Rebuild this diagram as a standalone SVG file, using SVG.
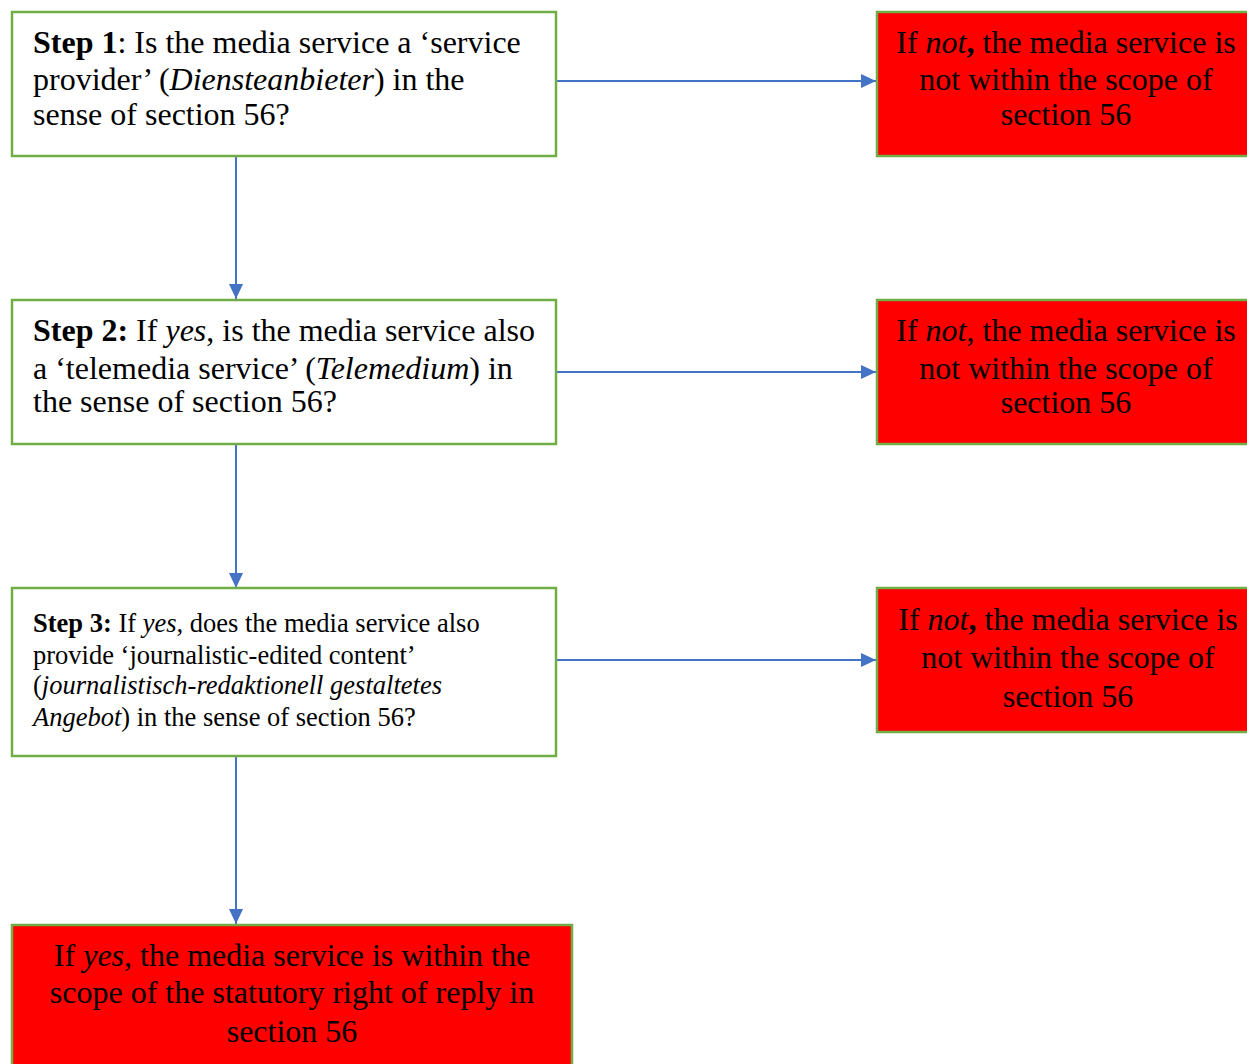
<svg xmlns="http://www.w3.org/2000/svg" width="1247" height="1064" viewBox="0 0 1247 1064">
<defs>
<style>
.box{fill:#ffffff;stroke:#70AD47;stroke-width:2.5}
.red{fill:#FF0000;stroke:#70AD47;stroke-width:2.5}
.t{font-family:"Liberation Serif","Times New Roman",serif;font-size:32px;fill:#000}
.s{font-size:26.5px}
.c{text-anchor:middle}
.b{font-weight:bold}
.i{font-style:italic}
.con{stroke:#4472C4;stroke-width:2;fill:none;marker-end:url(#ah)}
</style>
<marker id="ah" markerUnits="userSpaceOnUse" markerWidth="16" markerHeight="16" refX="15" refY="8" orient="auto">
<path d="M0,1 L15,8 L0,15 Z" fill="#4472C4"/>
</marker>
</defs>
<rect width="1247" height="1064" fill="#ffffff"/>
<g id="connectors">
<path class="con" d="M557,81 H876"/>
<path class="con" d="M557,372 H876"/>
<path class="con" d="M557,660 H876"/>
<path class="con" d="M236,157 V299"/>
<path class="con" d="M236,445 V588"/>
<path class="con" d="M236,757 V924"/>
</g>
<g id="step1">
<rect class="box" x="12" y="12" width="544" height="144"/>
<text class="t" x="33" y="53"><tspan class="b">Step 1</tspan>: Is the media service a ‘service</text>
<text class="t" x="33" y="90">provider’ (<tspan class="i">Diensteanbieter</tspan>) in the</text>
<text class="t" x="33" y="125">sense of section 56?</text>
</g>
<g id="step2">
<rect class="box" x="12" y="300" width="544" height="144"/>
<text class="t" x="33" y="341"><tspan class="b">Step 2:</tspan> If <tspan class="i">yes</tspan>, is the media service also</text>
<text class="t" x="33" y="379">a ‘telemedia service’ (<tspan class="i">Telemedium</tspan>) in</text>
<text class="t" x="33" y="412">the sense of section 56?</text>
</g>
<g id="step3">
<rect class="box" x="12" y="588" width="544" height="168"/>
<text class="t s" x="33" y="632"><tspan class="b">Step 3:</tspan> If <tspan class="i">yes</tspan>, does the media service also</text>
<text class="t s" x="33" y="664">provide ‘journalistic-edited content’</text>
<text class="t s" x="33" y="694">(<tspan class="i">journalistisch-redaktionell gestaltetes</tspan></text>
<text class="t s" x="33" y="726"><tspan class="i">Angebot</tspan>) in the sense of section 56?</text>
</g>
<g id="not1">
<rect class="red" x="877" y="12" width="380" height="144"/>
<text class="t c" x="1066" y="53">If <tspan class="i">not</tspan><tspan class="b">,</tspan> the media service is</text>
<text class="t c" x="1066" y="90">not within the scope of</text>
<text class="t c" x="1066" y="125">section 56</text>
</g>
<g id="not2">
<rect class="red" x="877" y="300" width="380" height="144"/>
<text class="t c" x="1066" y="341">If <tspan class="i">not</tspan>, the media service is</text>
<text class="t c" x="1066" y="379">not within the scope of</text>
<text class="t c" x="1066" y="413">section 56</text>
</g>
<g id="not3">
<rect class="red" x="877" y="588" width="380" height="144"/>
<text class="t c" x="1068" y="630">If <tspan class="i">not</tspan><tspan class="b">,</tspan> the media service is</text>
<text class="t c" x="1068" y="668">not within the scope of</text>
<text class="t c" x="1068" y="707">section 56</text>
</g>
<g id="yes">
<rect class="red" x="12" y="925" width="560" height="180"/>
<text class="t c" x="292" y="966">If <tspan class="i">yes</tspan>, the media service is within the</text>
<text class="t c" x="292" y="1003">scope of the statutory right of reply in</text>
<text class="t c" x="292" y="1042">section 56</text>
</g>
</svg>
